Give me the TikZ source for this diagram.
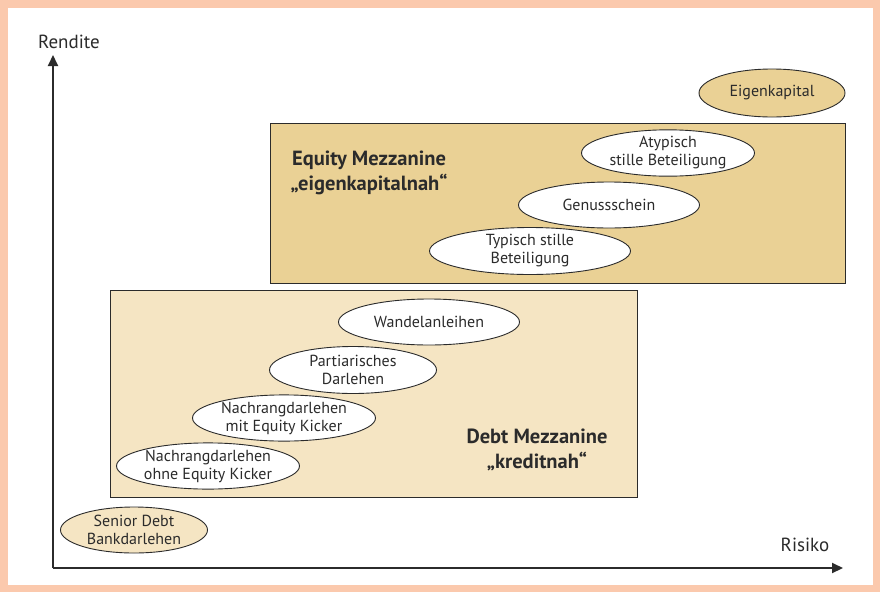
\documentclass[tikz,border=0pt]{standalone}
\usepackage{fontspec}
\setmainfont{PT Sans}
\usetikzlibrary{shapes.geometric,arrows.meta}
\definecolor{peach}{HTML}{FBC9AD}
\definecolor{eqfill}{HTML}{EAD195}
\definecolor{debtfill}{HTML}{F5E5C3}
\definecolor{ink}{HTML}{2B2B2B}
\begin{document}
\begin{tikzpicture}[x=1pt,y=-1pt,
  every node/.style={text=ink,font=\fontsize{16}{18}\selectfont},
  oval/.style={ellipse,draw=ink,line width=0.9pt,fill=white,inner sep=0pt,align=center},
  zone/.style={draw=ink,line width=1pt},
  title/.style={font=\fontsize{20.5}{25}\selectfont\bfseries,align=center},
  axlab/.style={font=\fontsize{19}{20}\selectfont},
  axis/.style={line width=2pt,draw=ink,-{Triangle[length=11pt,width=10pt]}}]
\useasboundingbox (0,0) rectangle (880,592);
\fill[peach] (0,0) rectangle (880,592);
\fill[white] (8,8) rectangle (873,585);
% zones
\draw[zone,fill=eqfill] (270,123) rectangle (845,283);
\draw[zone,fill=debtfill] (110,290) rectangle (637,497);
\node[title] (eqt) at (369,173) {Equity Mezzanine\\„eigenkapitalnah“};
\node[title] (dbt) at (537,450) {Debt Mezzanine\\„kreditnah“};
% axes
\coordinate (o) at (53,568);
\coordinate (ytip) at (53,55);
\coordinate (xtip) at (843,568);
\draw[axis] (o) -- (ytip);
\draw[axis] (o) -- (xtip);
\node[axlab] (ylab) at (69,42) {Rendite};
\node[axlab] (xlab) at (805,545) {Risiko};
% ellipses
\node[oval,fill=eqfill,minimum width=146pt,minimum height=48pt] (ek) at (772,93) {Eigenkapital};
\node[oval,minimum width=173pt,minimum height=46pt] (atyp) at (668,153) {Atypisch\\stille Beteiligung};
\node[oval,minimum width=181pt,minimum height=46pt] (genuss) at (609,205) {Genussschein};
\node[oval,minimum width=201pt,minimum height=47pt] (typ) at (530,251) {Typisch stille\\Beteiligung};
\node[oval,minimum width=181pt,minimum height=46pt] (wandel) at (429,322) {Wandelanleihen};
\node[oval,minimum width=167pt,minimum height=47pt] (part) at (353,370) {Partiarisches\\Darlehen};
\node[oval,minimum width=183pt,minimum height=46pt] (nmit) at (284,418) {Nachrangdarlehen\\mit Equity Kicker};
\node[oval,minimum width=183pt,minimum height=46pt] (nohne) at (208,466) {Nachrangdarlehen\\ohne Equity Kicker};
\node[oval,fill=debtfill,minimum width=147pt,minimum height=46pt] (senior) at (134,530) {Senior Debt\\Bankdarlehen};
\end{tikzpicture}
\end{document}
